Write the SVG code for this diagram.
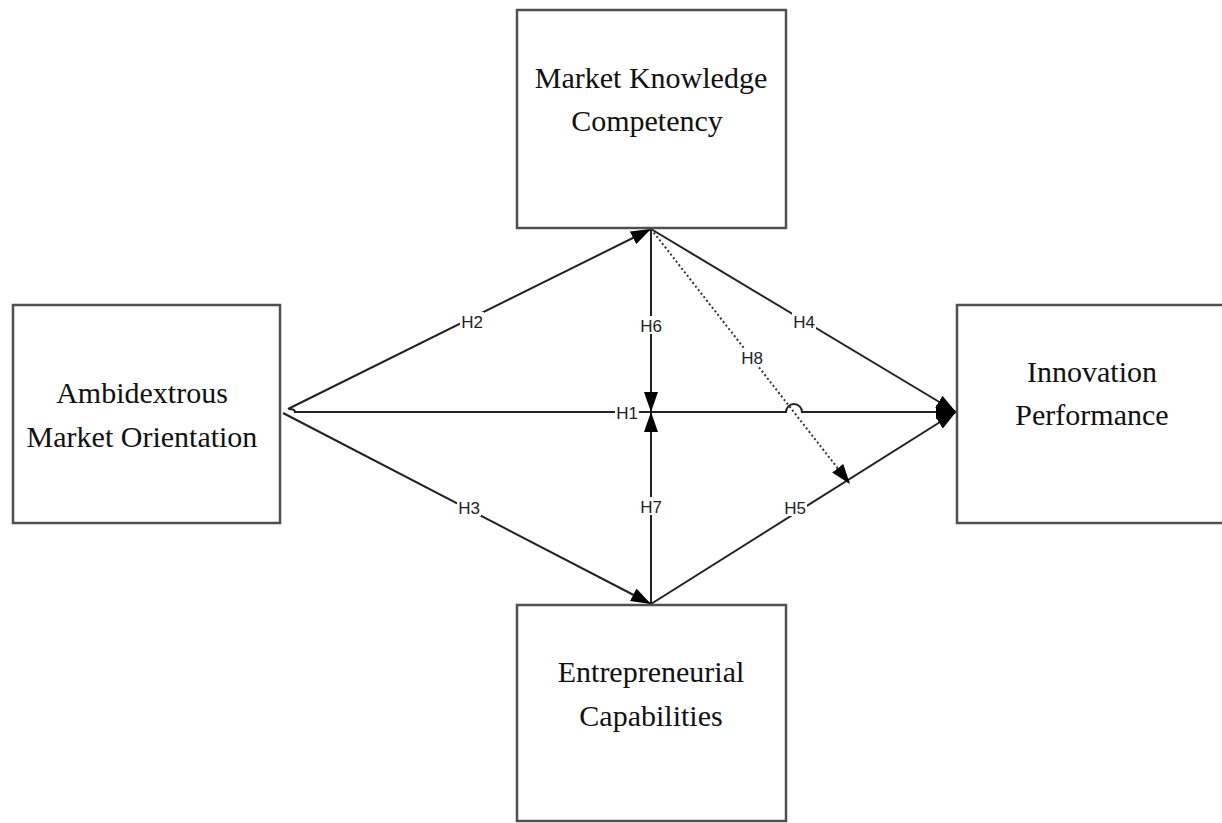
<svg xmlns="http://www.w3.org/2000/svg" width="1222" height="823" viewBox="0 0 1222 823">
<style>
.box{fill:#fff;stroke:#505050;stroke-width:2.5}
.t{font-family:"Liberation Serif","Times New Roman",serif;font-size:30px;fill:#111;text-anchor:middle}
.c{fill:none;stroke:#222;stroke-width:2}
.d{fill:none;stroke:#333;stroke-width:2;stroke-dasharray:2,2.5}
.lb{font-family:"Liberation Sans",Arial,sans-serif;font-size:17px;fill:#222;text-anchor:middle}
.lbg{fill:#fff}
</style>
<defs>
<marker id="arr" viewBox="0 0 20 14" refX="20" refY="7" markerWidth="20" markerHeight="14" markerUnits="userSpaceOnUse" orient="auto">
<path d="M0,0 L20,7 L0,14 z" fill="#000"/>
</marker>
</defs>
<rect width="1222" height="823" fill="#fff"/>
<g id="connectors">
<path id="h2" class="c" d="M288,409 L651,229" marker-end="url(#arr)"/>
<path id="h3" class="c" d="M283,413 L651,604" marker-end="url(#arr)"/>
<path id="h1" class="c" d="M289,409 Q295,409 295,412 L786,412 A8,8 0 0 1 802,412 L956,412" marker-end="url(#arr)"/>
<path id="h6" class="c" d="M651,229 L651,412" marker-end="url(#arr)"/>
<path id="h7" class="c" d="M651,604 L651,412" marker-end="url(#arr)"/>
<path id="h4" class="c" d="M651,229 L956,412" marker-end="url(#arr)"/>
<path id="h5" class="c" d="M651,604 L956,412" marker-end="url(#arr)"/>
<path id="h8" class="d" d="M651,229 L850,484" marker-end="url(#arr)"/>
<g id="labels">
<rect class="lbg" x="460" y="312" width="24" height="18"/><text class="lb" x="472" y="328">H2</text>
<rect class="lbg" x="639" y="316" width="24" height="18"/><text class="lb" x="651" y="332">H6</text>
<rect class="lbg" x="792" y="312" width="24" height="18"/><text class="lb" x="804" y="328">H4</text>
<rect class="lbg" x="740" y="348" width="24" height="18"/><text class="lb" x="752" y="364">H8</text>
<rect class="lbg" x="615" y="403" width="24" height="18"/><text class="lb" x="627" y="419">H1</text>
<rect class="lbg" x="457" y="498" width="24" height="18"/><text class="lb" x="469" y="514">H3</text>
<rect class="lbg" x="639" y="497" width="24" height="18"/><text class="lb" x="651" y="513">H7</text>
<rect class="lbg" x="783" y="498" width="24" height="18"/><text class="lb" x="795" y="514">H5</text>
</g>
</g>
<g id="node-amo">
<rect class="box" x="13" y="305" width="267" height="218"/>
<text class="t" x="142" y="403">Ambidextrous</text>
<text class="t" x="142" y="447">Market Orientation</text>
</g>
<g id="node-mkc">
<rect class="box" x="517" y="10" width="269" height="218"/>
<text class="t" x="651" y="88">Market Knowledge</text>
<text class="t" x="647" y="131">Competency</text>
</g>
<g id="node-ip">
<rect class="box" x="957" y="305" width="270" height="218"/>
<text class="t" x="1092" y="382">Innovation</text>
<text class="t" x="1092" y="425">Performance</text>
</g>
<g id="node-ec">
<rect class="box" x="517" y="605" width="269" height="216"/>
<text class="t" x="651" y="682">Entrepreneurial</text>
<text class="t" x="651" y="726">Capabilities</text>
</g>
</svg>
